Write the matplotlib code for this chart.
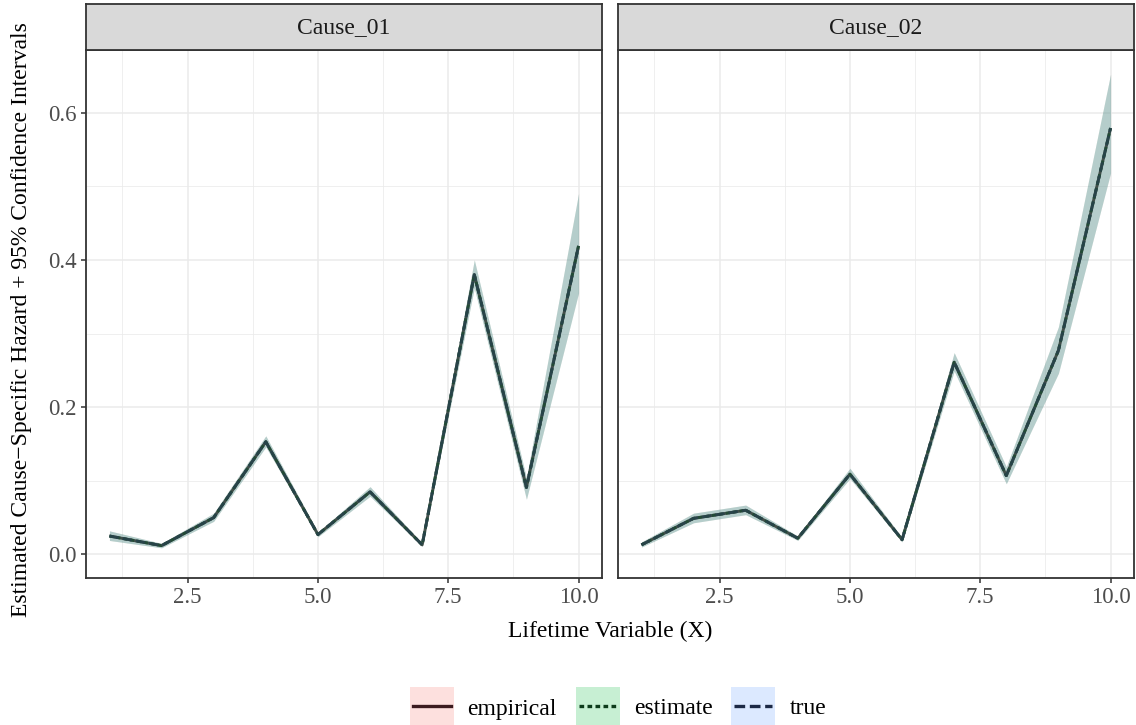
import numpy as np
import matplotlib
matplotlib.use("Agg")
import matplotlib.pyplot as plt
from matplotlib.patches import Rectangle
from matplotlib.lines import Line2D

# ---------------- data ----------------
x = [1, 2, 3, 4, 5, 6, 7, 8, 9, 10]
causes = ["Cause_01", "Cause_02"]

est_cause01 = [0.025, 0.012, 0.050, 0.153, 0.027, 0.085, 0.013, 0.380, 0.091, 0.419]
lo_cause01 = [0.019, 0.009, 0.045, 0.146, 0.024, 0.079, 0.011, 0.362, 0.075, 0.355]
hi_cause01 = [0.032, 0.015, 0.056, 0.161, 0.030, 0.092, 0.015, 0.400, 0.104, 0.490]

est_cause02 = [0.013, 0.049, 0.060, 0.022, 0.109, 0.020, 0.261, 0.107, 0.277, 0.579]
lo_cause02 = [0.010, 0.043, 0.054, 0.019, 0.103, 0.017, 0.249, 0.096, 0.246, 0.518]
hi_cause02 = [0.017, 0.056, 0.067, 0.025, 0.117, 0.023, 0.274, 0.119, 0.309, 0.652]

methods = ["empirical", "estimate", "true"]
fill_colors = ["#F8766D", "#00BA38", "#619CFF"]
line_colors = ["#3C1B1F", "#0D3B1B", "#1C2946"]
plot_line_colors = ["#34403C", "#1F4A34", "#27434A"]
line_styles = ["-", (0, (1.4, 1.0)), (0, (3.2, 1.4))]

y_ticks = [0.0, 0.2, 0.4, 0.6]
y_tick_labels = ["0.0", "0.2", "0.4", "0.6"]
x_ticks = [2.5, 5.0, 7.5, 10.0]
x_tick_labels = ["2.5", "5.0", "7.5", "10.0"]

est_all = [est_cause01, est_cause02]
lo_all = [lo_cause01, lo_cause02]
hi_all = [hi_cause01, hi_cause02]

# ---------------- style ----------------
plt.rcParams["font.family"] = ["Liberation Serif", "DejaVu Serif"]
W, H = 1136, 725
fig = plt.figure(figsize=(W / 100, H / 100), dpi=100)

def fx(px):
    return px / W

def fy(py):
    return 1 - py / H

panel_left = [86, 618]
panel_w = 516
panel_top, panel_bot = 50, 578
strip_top = 4

border_col = "#333333"
grid_col = "#EBEBEB"
tick_col = "#4D4D4D"
FS = 17

for k in range(2):
    ax = fig.add_axes([fx(panel_left[k]), fy(panel_bot), fx(panel_w),
                       (panel_bot - panel_top) / H])
    for m in range(3):
        ax.fill_between(x, lo_all[k], hi_all[k], color=fill_colors[m],
                        alpha=0.2, linewidth=0, zorder=2)
    for m in range(3):
        ax.plot(x, est_all[k], color=plot_line_colors[m], linestyle=line_styles[m],
                linewidth=2.1, alpha=0.9, zorder=3, solid_capstyle="butt")
    ax.set_xlim(0.55, 10.45)
    ax.set_ylim(-0.032, 0.685)
    ax.set_xticks(x_ticks)
    ax.set_xticklabels(x_tick_labels)
    ax.set_xticks([1.25, 3.75, 6.25, 8.75], minor=True)
    ax.set_yticks(y_ticks)
    if k == 0:
        ax.set_yticklabels(y_tick_labels)
    else:
        ax.set_yticklabels([])
    ax.set_yticks([0.1, 0.3, 0.5], minor=True)
    ax.grid(which="major", color=grid_col, linewidth=1.1, zorder=0)
    ax.grid(which="minor", color=grid_col, linewidth=0.55, zorder=0)
    ax.set_axisbelow(True)
    ax.tick_params(which="minor", length=0)
    ax.tick_params(which="major", length=3.5, width=1.1, color=border_col,
                   labelsize=FS - 0.5, labelcolor=tick_col, pad=3)
    if k == 1:
        ax.tick_params(axis="y", which="major", length=0)
    for s in ax.spines.values():
        s.set_color(border_col)
        s.set_linewidth(1.3)
    # strip
    sax = fig.add_axes([fx(panel_left[k]), fy(panel_top), fx(panel_w),
                        (panel_top - strip_top) / H])
    sax.set_facecolor("#D9D9D9")
    sax.set_xticks([])
    sax.set_yticks([])
    for s in sax.spines.values():
        s.set_color(border_col)
        s.set_linewidth(1.3)
    sax.text(0.5, 0.48, causes[k], ha="center", va="center", fontsize=FS,
             color="#1A1A1A", transform=sax.transAxes)

# axis titles
fig.text(fx(610), fy(631), "Lifetime Variable (X)", ha="center", va="center",
         fontsize=FS, color="black")
fig.text(fx(22), fy(320), "Estimated Cause\u2212Specific Hazard + 95% Confidence Intervals",
         ha="center", va="center", rotation=90, fontsize=FS, color="black")

# legend (manual)
key_x = [410, 576, 731]
label_x = [467, 634, 790]
key_w, key_top, key_bot = 44, 687, 725
for m in range(3):
    fig.patches.append(Rectangle((fx(key_x[m]), fy(key_bot)), fx(key_w),
                                 (key_bot - key_top) / H, transform=fig.transFigure,
                                 facecolor=fill_colors[m], alpha=0.22,
                                 edgecolor="none"))
    yc = fy((key_top + key_bot) / 2)
    fig.lines.append(Line2D([fx(key_x[m] + 3), fx(key_x[m] + key_w - 3)], [yc, yc],
                            transform=fig.transFigure, color=line_colors[m],
                            linestyle=line_styles[m], linewidth=2.4))
    fig.text(fx(label_x[m]), fy(709), methods[m], ha="left", va="center",
             fontsize=FS, color="black")

fig.savefig("out.png", dpi=100, facecolor="white")
